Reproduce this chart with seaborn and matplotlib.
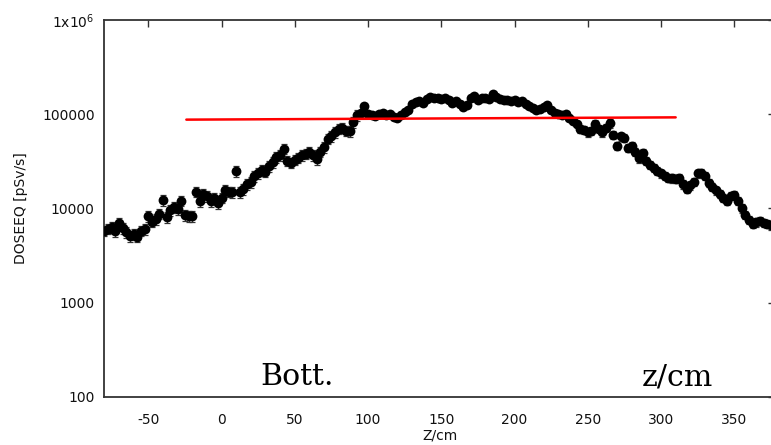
import numpy as np
import pandas as pd
import matplotlib
matplotlib.use("Agg")
import matplotlib.pyplot as plt
import seaborn as sns

# ---- data ----
z_cm = [-80, -77.5, -75, -72.5, -70, -67.5, -65, -62.5, -60, -57.5, -55, -52.5, -50, -47.5, -45,
        -42.5, -40, -37.5, -35, -32.5, -30, -27.5, -25, -22.5, -20, -17.5, -15, -12.5, -10, -7.5,
        -5, -2.5, 0, 2.5, 5, 7.5, 10, 12.5, 15, 17.5, 20, 22.5, 25, 27.5, 30, 32.5, 35, 37.5, 40,
        42.5, 45, 47.5, 50, 52.5, 55, 57.5, 60, 62.5, 65, 67.5, 70, 72.5, 75, 77.5, 80, 82.5, 85,
        87.5, 90, 92.5, 95, 97.5, 100, 102.5, 105, 107.5, 110, 112.5, 115, 117.5, 120, 122.5, 125,
        127.5, 130, 132.5, 135, 137.5, 140, 142.5, 145, 147.5, 150, 152.5, 155, 157.5, 160, 162.5,
        165, 167.5, 170, 172.5, 175, 177.5, 180, 182.5, 185, 187.5, 190, 192.5, 195, 197.5, 200,
        202.5, 205, 207.5, 210, 212.5, 215, 217.5, 220, 222.5, 225, 227.5, 230, 232.5, 235, 237.5,
        240, 242.5, 245, 247.5, 250, 252.5, 255, 257.5, 260, 262.5, 265, 267.5, 270, 272.5, 275,
        277.5, 280, 282.5, 285, 287.5, 290, 292.5, 295, 297.5, 300, 302.5, 305, 307.5, 310, 312.5,
        315, 317.5, 320, 322.5, 325, 327.5, 330, 332.5, 335, 337.5, 340, 342.5, 345, 347.5, 350,
        352.5, 355, 357.5, 360, 362.5, 365, 367.5, 370, 372.5, 375]

doseeq = [5800, 6100, 6300, 5700, 7000, 6200, 5600, 5100, 5300, 5000, 5800, 6000, 8200, 7200, 7700,
          8800, 12200, 8000, 9600, 10300, 9800, 12100, 8500, 8300, 8300, 15000, 12000, 14300, 13500, 12000,
          12800, 11400, 13000, 15800, 15000, 14800, 25000, 14800, 16000, 18000, 19000, 22000, 23500, 25500, 24500,
          28000, 31000, 35000, 37000, 43000, 32000, 30500, 33000, 34500, 36500, 38000, 40000, 37000, 33500, 40000,
          45000, 55000, 58000, 64000, 70000, 72000, 67000, 66000, 82000, 98000, 102000, 123000, 100000, 98000, 96000,
          101000, 104000, 99000, 100000, 94000, 92000, 97000, 105000, 110000, 128000, 134000, 137000, 132000, 145000, 152000,
          147000, 150000, 145000, 148000, 140000, 133000, 138000, 128000, 118000, 125000, 150000, 155000, 142000, 148000, 150000,
          145000, 165000, 152000, 146000, 140000, 143000, 138000, 140000, 136000, 138000, 128000, 122000, 116000, 110000, 114000,
          118000, 124000, 112000, 103000, 100000, 98000, 100000, 92000, 85000, 78000, 70000, 68000, 64000, 67000, 78000,
          70000, 64000, 72000, 80000, 60000, 46000, 58000, 56000, 44000, 46000, 40000, 34000, 39000, 32000, 29000,
          27000, 25000, 23500, 22000, 21000, 20800, 20700, 21000, 18000, 16200, 17500, 19000, 23500, 24000, 22000,
          18700, 17000, 15500, 14300, 13000, 12100, 13500, 14000, 12000, 10000, 8500, 7600, 6900, 7100, 7400,
          7000, 6900, 6600]

# relative statistical error (estimated size of the error bars)
err_low_region = 0.13
err_peak_region = 0.04
err_high_region = 0.10

# fitted average line (red)
fit_z = [-24, 310]
fit_val = [87500, 92500]

df = pd.DataFrame({"Z": z_cm, "DOSEEQ": doseeq})
rel = np.where(df["Z"] < 95, err_low_region, np.where(df["Z"] < 245, err_peak_region, err_high_region))
yerr = df["DOSEEQ"].to_numpy() * rel

sns.set_style("white")
plt.rcParams["font.family"] = ["DejaVu Sans"]
plt.rcParams["axes.unicode_minus"] = False

fig = plt.figure(figsize=(7.71, 4.45), dpi=100)
ax = fig.add_axes([104.3 / 771, 1 - 396.7 / 445, 671 / 771, (396.7 - 20) / 445])

ax.errorbar(df["Z"], df["DOSEEQ"], yerr=yerr, fmt="none", ecolor="#333333",
            elinewidth=0.9, capsize=2.5, capthick=0.9, zorder=2)
sns.scatterplot(data=df, x="Z", y="DOSEEQ", ax=ax, color="black", s=50,
                edgecolor="black", linewidth=0, zorder=3, legend=False)
sns.lineplot(x=fit_z, y=fit_val, ax=ax, color="red", linewidth=1.8, zorder=4)

ax.set_yscale("log")
ax.set_ylim(100, 1e6)
ax.set_xlim(-80, 378)
ax.set_xticks([-50, 0, 50, 100, 150, 200, 250, 300, 350])
ax.set_yticks([100, 1000, 10000, 100000, 1e6])
ax.set_yticklabels(["100", "1000", "10000", "100000", "1x10$^{6}$"])

ax.tick_params(axis="both", which="major", direction="in", length=5, width=1.0,
               color="#333333", labelsize=10, top=True, right=True, labelcolor="#111111")
ax.tick_params(axis="y", which="minor", direction="in", length=3, width=0.8,
               color="#333333", right=True)
ax.tick_params(axis="x", which="minor", bottom=False, top=False)
ax.tick_params(axis="x", pad=12)
ax.tick_params(axis="y", pad=7)
for s in ax.spines.values():
    s.set_color("#333333")
    s.set_linewidth(1.3)

ax.set_xlabel("Z/cm", fontsize=10, labelpad=1, color="#111111")
ax.set_ylabel("DOSEEQ [pSv/s]", fontsize=10, labelpad=10, color="#111111")

fig.text(260 / 771, 1 - 385 / 445, "Bott.", family="DejaVu Serif", fontsize=21.6,
         va="baseline", ha="left", color="black")
fig.text(642 / 771, 1 - 385 / 445, "z/cm", family="DejaVu Serif", fontsize=21.6,
         va="baseline", ha="left", color="black")

fig.savefig("out.png", dpi=100)
